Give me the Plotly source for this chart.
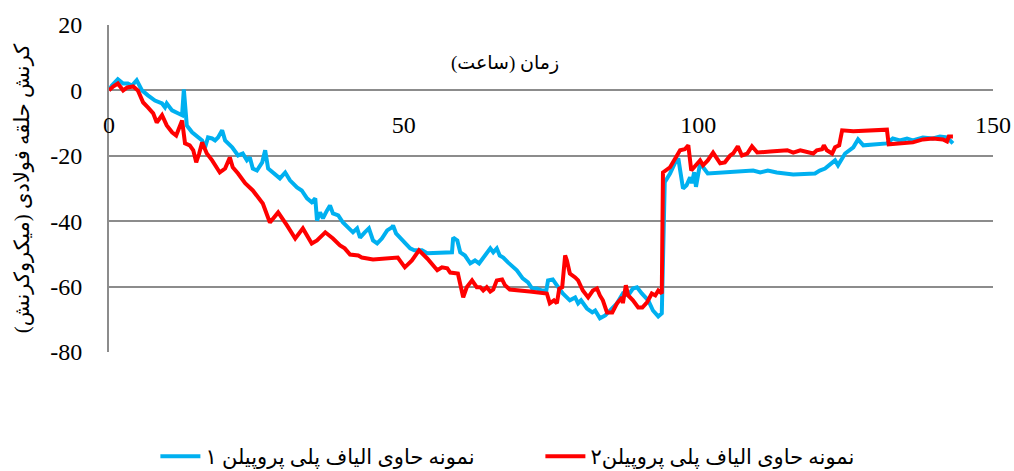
import plotly.graph_objects as go

# Series 1 (blue): time (h) and strain (microstrain)
x1 = [0, 0.5, 1.5, 2.4, 3.2, 3.9, 4.7, 5.6, 6.6, 7.8, 9.0, 9.5, 9.8, 10.7, 11.7, 12.4, 12.7, 13.2, 14.1, 15.8,
      16.3, 16.8, 17.5, 18.0, 18.5, 19.2, 19.7, 20.9, 21.9, 22.7, 23.4, 23.9, 24.4, 25.1, 26.0, 26.5, 27.0, 27.8,
      29.0, 29.9, 30.7, 31.9, 32.7, 33.6, 34.4, 35.0, 35.3, 35.8, 36.3, 37.0, 37.5, 38.0, 38.9, 39.7, 40.6, 41.4,
      42.1, 42.6, 43.4, 44.1, 44.8, 45.5, 46.3, 47.2, 48.0, 48.2, 48.7, 49.4, 50.2, 51.1, 51.8, 53.1, 54.0, 55.0,
      57.4, 58.2, 58.4, 59.1, 59.6, 60.4, 61.3, 62.1, 62.8, 63.5, 64.1, 64.7, 65.2, 65.8, 66.3, 66.9, 67.7, 69.2,
      70.2, 71.1, 71.8, 72.6, 73.5, 74.2, 74.5, 75.3, 76.0, 77.0, 78.2, 79.1, 79.6, 80.1, 81.1, 82.0, 82.5, 83.3,
      84.2, 85.0, 86.2, 87.2, 88.1, 88.9, 89.6, 90.4, 91.5, 92.3, 93.2, 93.8, 94.3, 95.2, 96.0, 96.6, 97.4, 98.0,
      98.6, 98.9, 99.3, 99.6, 100.3, 101.6, 104.9, 107.0, 109.3, 110.5, 111.8, 113.3, 116.1, 119.8, 120.6, 121.5,
      122.7, 123.2, 123.7, 124.4, 124.9, 126.3, 127.1, 128.0, 132.0, 133.0, 134.2, 135.4, 136.4, 138.1, 139.8,
      141.0, 142.2, 143.2]
y1 = [0, 1.5, 3.4, 2.1, 2.1, 1.5, 3.1, 0, -1.5, -3.1, -4.0, -5.2, -4.0, -6.1, -7.0, -7.6, 0.3, -10.7, -12.8, -15.3,
      -17.4, -14.4, -14.7, -15.3, -14.4, -12.2, -15.3, -17.4, -19.9, -19.3, -21.4, -20.5, -23.9, -24.5, -22.0, -18.3,
      -23.9, -25.1, -26.9, -25.1, -27.5, -29.7, -30.6, -33.0, -34.2, -33.0, -39.8, -37.3, -39.1, -36.7, -35.2,
      -37.6, -38.2, -40.4, -42.2, -43.4, -42.2, -45.0, -43.4, -42.2, -45.9, -46.8, -45.3, -42.8, -41.9, -41.3,
      -43.7, -45.0, -46.5, -48.3, -48.9, -48.9, -49.8, -49.8, -49.8, -49.5, -45.0, -45.9, -49.5, -50.5, -52.9,
      -52.0, -52.9, -51.1, -49.5, -48.3, -49.5, -48.3, -50.5, -51.1, -52.6, -55.0, -57.5, -58.7, -60.6, -60.6,
      -61.2, -61.2, -58.1, -57.8, -59.6, -62.1, -64.2, -63.3, -65.1, -64.2, -66.7, -67.9, -67.3, -69.7, -68.8,
      -67.3, -65.1, -62.1, -62.7, -60.6, -60.2, -62.1, -64.2, -67.3, -69.1, -68.2, -28.1, -25.4, -22.3, -20.8,
      -30.0, -29.0, -26.6, -28.4, -25.0, -29.5, -22.3, -25.4, -25.1, -24.8, -24.5, -25.1, -24.5, -25.1, -25.7,
      -25.4, -24.5, -23.9, -22.3, -21.4, -22.9, -20.8, -19.3, -17.4, -15.0, -16.8, -16.2, -14.7, -15.3, -14.7,
      -15.3, -14.4, -14.7, -14.1, -14.4, -16.2]

# Series 2 (red)
x2 = [0, 0.7, 1.5, 2.4, 3.1, 4.1, 4.9, 5.8, 6.6, 7.5, 8.1, 9.0, 9.8, 10.7, 11.4, 11.9, 12.4, 12.9, 13.7, 14.3,
      14.8, 15.3, 15.8, 16.6, 17.5, 18.8, 19.7, 20.5, 21.0, 21.9, 23.1, 24.4, 25.3, 26.1, 27.3, 28.7, 30.2, 31.6,
      32.9, 34.4, 35.3, 36.7, 38.0, 39.2, 40.0, 40.9, 42.3, 42.9, 44.8, 47.7, 49.0, 50.2, 51.4, 52.6, 54.0, 55.7,
      56.5, 57.4, 57.9, 59.2, 60.1, 60.7, 61.6, 62.4, 63.0, 63.5, 64.1, 64.7, 65.2, 65.8, 66.7, 67.2, 68.0, 71.4,
      74.3, 74.8, 75.5, 76.0, 76.4, 76.9, 77.4, 77.7, 78.2, 79.1, 79.6, 80.4, 81.3, 82.1, 82.8, 83.3, 83.8, 84.5,
      85.4, 86.2, 87.1, 87.2, 87.7, 88.1, 88.9, 89.8, 90.5, 91.3, 92.1, 92.7, 93.2, 93.8, 94.0, 95.2, 96.0, 96.9,
      97.7, 98.3, 98.8, 99.8, 100.3, 100.8, 101.6, 102.5, 103.7, 104.5, 105.4, 105.9, 106.7, 107.4, 108.3, 109.1,
      110.0, 112.2, 115.1, 116.1, 117.3, 119.5, 120.1, 121.0, 121.3, 121.8, 122.7, 123.2, 123.9, 124.4, 126.3,
      132.0, 132.3, 136.4, 138.1, 139.8, 141.5, 142.2, 142.5, 143.2]
y2 = [0, 1.2, 2.1, 0, 0.9, 1.2, 0, -3.7, -5.2, -7.0, -9.8, -7.6, -10.7, -12.8, -13.8, -11.6, -9.2, -16.2, -16.8,
      -18.3, -22.0, -19.3, -15.9, -19.3, -21.4, -25.1, -23.9, -20.5, -23.5, -25.4, -28.4, -30.6, -32.7, -34.6,
      -40.4, -37.3, -41.3, -45.3, -42.2, -46.8, -45.9, -43.4, -45.3, -47.4, -48.3, -50.2, -50.5, -51.1, -51.7,
      -51.1, -51.1, -54.1, -52.0, -48.9, -51.4, -55.0, -54.1, -54.4, -55.7, -56.0, -63.3, -60.2, -58.1, -60.2,
      -60.2, -61.2, -60.2, -61.5, -60.9, -58.1, -57.8, -59.6, -60.9, -61.5, -62.1, -65.1, -64.2, -65.1, -60.6,
      -60.2, -50.5, -52.0, -56.0, -57.2, -58.1, -61.2, -63.3, -61.2, -60.6, -62.7, -64.2, -67.9, -67.9, -65.1,
      -63.3, -65.1, -59.6, -62.7, -64.2, -66.4, -66.4, -64.8, -62.1, -62.7, -61.2, -62.1, -25.1, -23.5, -20.8,
      -18.3, -18.0, -16.8, -24.5, -22.3, -21.4, -22.9, -21.4, -19.0, -22.3, -22.0, -19.9, -19.3, -17.1, -19.9,
      -19.3, -17.1, -19.0, -18.7, -18.3, -19.0, -18.3, -19.3, -18.3, -18.0, -16.8, -18.3, -19.3, -17.4, -16.8,
      -12.2, -12.5, -12.0, -16.5, -15.9, -15.0, -14.7, -15.0, -15.6, -14.1, -14.1]

name1 = "نمونه حاوی الیاف پلی پروپیلن ۱"
name2 = "نمونه حاوی الیاف پلی پروپیلن۲"
x_title = "زمان (ساعت)"
y_title = "کرنش حلقه فولادی (میکروکرنش)"
x_ticks = [0, 50, 100, 150]
y_ticks = [20, 0, -20, -40, -60, -80]

NUMFONT = "Liberation Serif"
TXTFONT = "Liberation Serif, DejaVu Sans"
GRID = "#8c8c8c"

fig = go.Figure()
fig.add_trace(go.Scatter(x=x1, y=y1, mode="lines", name=name1,
                         line=dict(color="#00B0F0", width=4)))
fig.add_trace(go.Scatter(x=x2, y=y2, mode="lines", name=name2,
                         line=dict(color="#FF0000", width=4)))

fig.update_layout(
    width=1014, height=471,
    margin=dict(l=109, r=21, t=25, b=119, autoexpand=False),
    paper_bgcolor="white", plot_bgcolor="white",
    font=dict(family=NUMFONT, size=24, color="black"),
    showlegend=True,
    legend=dict(orientation="h", x=0.488, y=-0.32, xanchor="center", yanchor="middle",
                font=dict(size=21, family=TXTFONT), entrywidth=330, itemwidth=40),
    xaxis=dict(range=[0, 150], tickvals=x_ticks, ticktext=[str(v) for v in x_ticks],
               showgrid=False, zeroline=False, showline=False, automargin=False,
               anchor="free", position=0.8, ticks="", ticklabelstandoff=18,
               tickfont=dict(size=24, family=NUMFONT)),
    yaxis=dict(range=[-80, 20], tickvals=y_ticks, ticktext=[str(v) for v in y_ticks],
               showgrid=True, gridcolor=GRID, gridwidth=2, zeroline=False, automargin=False,
               showline=True, linecolor=GRID, linewidth=2, ticks="", ticklabelstandoff=20,
               tickfont=dict(size=24, family=NUMFONT),
               title=dict(text=y_title, font=dict(size=21, family=TXTFONT))),
    annotations=[dict(text=x_title, x=0.448, y=0.924, xref="paper", yref="paper",
                      showarrow=False, font=dict(size=19, family=TXTFONT))],
)

fig.write_html("out.html", config={"displayModeBar": False},
               post_script="document.body.style.margin='0';document.body.style.overflow='hidden';")
